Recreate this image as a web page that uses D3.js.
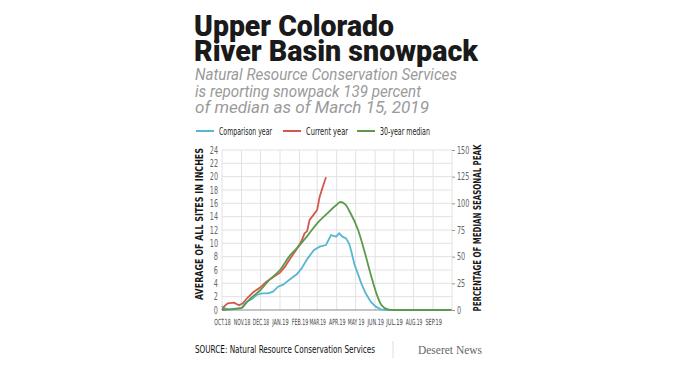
<!DOCTYPE html>
<html>
<head>
<meta charset="utf-8">
<script src="https://cdn.jsdelivr.net/npm/d3@7"></script>
<style>
  body { margin: 0; background: #fff; }
  svg { display: block; }
</style>
</head>
<body>
<svg id="chart" width="674" height="373"></svg>
<script>
// snowpack, inches (average of all sites)
const medianDates = ['2018-10-01','2018-10-15','2018-11-01','2018-11-08','2018-11-15','2018-12-01','2018-12-15','2019-01-01','2019-01-17','2019-02-01','2019-02-15','2019-03-01','2019-03-15','2019-04-01','2019-04-07','2019-04-15','2019-04-22','2019-05-05','2019-05-16','2019-05-26','2019-06-03','2019-06-11','2019-06-21','2019-07-01','2019-08-01','2019-09-30']
const medianVals = [0.0, 0.1, 0.3, 1.0, 1.7, 3.0, 4.5, 6.0, 8.2, 9.7, 11.3, 13.0, 14.3, 15.8, 16.2, 15.8, 14.7, 12.0, 8.5, 5.0, 2.5, 0.75, 0.1, 0, 0, 0]

const currentDates = ['2018-10-01','2018-10-05','2018-10-10','2018-10-20','2018-10-28','2018-11-03','2018-11-10','2018-11-20','2018-12-01','2018-12-10','2018-12-21','2019-01-01','2019-01-09','2019-01-17','2019-01-28','2019-02-04','2019-02-09','2019-02-13','2019-02-17','2019-02-25','2019-03-01','2019-03-05','2019-03-10','2019-03-15']
const currentVals = [0.0, 0.6, 1.0, 1.1, 0.7, 1.0, 1.8, 2.7, 3.4, 4.2, 4.9, 5.6, 6.5, 7.7, 9.2, 10.3, 11.5, 11.8, 13.5, 14.5, 15.0, 17.0, 18.5, 19.9]

const compDates = ['2018-10-01','2018-10-04','2018-10-12','2018-11-01','2018-11-09','2018-11-17','2018-11-25','2018-12-03','2018-12-13','2018-12-21','2018-12-29','2019-01-06','2019-01-17','2019-01-28','2019-02-04','2019-02-14','2019-02-24','2019-03-05','2019-03-15','2019-03-23','2019-03-31','2019-04-05','2019-04-10','2019-04-16','2019-04-21','2019-04-25','2019-04-29','2019-05-04','2019-05-10','2019-05-17','2019-05-25','2019-06-02','2019-06-10','2019-06-20','2019-09-30']
const compVals = [0.6, 0.3, 0.1, 0.3, 1.25, 1.6, 2.25, 2.5, 2.5, 2.75, 3.5, 3.8, 4.6, 5.4, 6.2, 7.75, 9.0, 9.5, 9.75, 11.25, 11.0, 11.5, 11.0, 10.75, 9.9, 8.5, 6.9, 5.6, 4.0, 2.5, 1.25, 0.5, 0.1, 0, 0]

const leftTicks = [0, 2, 4, 6, 8, 10, 12, 14, 16, 18, 20, 22, 24]
const rightTicks = [0, 25, 50, 75, 100, 125, 150]
const monthLabels = ['OCT.18','NOV.18','DEC.18','JAN.19','FEB.19','MAR.19','APR.19','MAY 19','JUN.19','JUL.19','AUG.19','SEP.19']

const blue = '#58b6d3'
const red = '#d4574f'
const green = '#5a9a4b'
const cond = "'DejaVu Sans Condensed', 'DejaVu Sans', sans-serif"

const svg = d3.select('#chart')
const parse = d3.timeParse('%Y-%m-%d')

const x = d3.scaleTime()
  .domain([parse('2018-10-01'), parse('2019-10-01')])
  .range([222, 452])
const y = d3.scaleLinear().domain([0, 24]).range([310, 150])
const yPct = d3.scaleLinear().domain([0, 150]).range([310, 150])

// squeeze text horizontally to a narrow look
function squeeze(sel, f) {
  sel.each(function () {
    const w = this.getComputedTextLength()
    d3.select(this).attr('textLength', w * f).attr('lengthAdjust', 'spacingAndGlyphs')
  })
}
function fit(sel, w) {
  sel.attr('textLength', w).attr('lengthAdjust', 'spacingAndGlyphs')
}

// title
svg.append('text').attr('x', 194).attr('y', 36)
  .style('font-family', 'Roboto, sans-serif').style('font-weight', 900)
  .style('font-size', '30px').style('fill', '#1a1a1a')
  .text('Upper Colorado').call(fit, 200)
svg.append('text').attr('x', 194).attr('y', 61)
  .style('font-family', 'Roboto, sans-serif').style('font-weight', 900)
  .style('font-size', '30px').style('fill', '#1a1a1a')
  .text('River Basin snowpack').call(fit, 284)

const subtitle = [
  ['Natural Resource Conservation Services', 262],
  ['is reporting snowpack 139 percent', 226],
  ['of median as of March 15, 2019', 234]
]
subtitle.forEach(function (s, i) {
  svg.append('text').attr('x', 195).attr('y', 80 + i * 16.5)
    .style('font-family', 'Roboto, sans-serif').style('font-style', 'italic')
    .style('font-size', '16.5px').style('fill', '#9a9a9a')
    .text(s[0]).call(fit, s[1])
})

// legend
const legend = [
  ['Comparison year', blue, 196, 53],
  ['Current year', red, 283, 42],
  ['30-year median', green, 357, 50]
]
legend.forEach(function (l) {
  svg.append('line').attr('x1', l[2]).attr('x2', l[2] + 18)
    .attr('y1', 131).attr('y2', 131)
    .style('stroke', l[1]).style('stroke-width', 2)
  svg.append('text').attr('x', l[2] + 23).attr('y', 134.5)
    .style('font-family', cond).style('font-size', '10.5px').style('fill', '#222')
    .text(l[0]).call(fit, l[3])
})

// grid
const grid = svg.append('g')
grid.selectAll('.h').data(leftTicks.slice(1)).enter().append('line')
  .attr('x1', 222).attr('x2', 452)
  .attr('y1', d => y(d)).attr('y2', d => y(d))
  .style('stroke', '#e2e2e2').style('stroke-width', 1)
const monthStarts = d3.timeMonth.range(parse('2018-10-01'), parse('2019-10-02'))
grid.selectAll('.v').data(monthStarts).enter().append('line')
  .attr('x1', d => x(d)).attr('x2', d => x(d))
  .attr('y1', 150).attr('y2', 310)
  .style('stroke', '#e2e2e2').style('stroke-width', 1)

// axes
const gl = svg.append('g').attr('transform', 'translate(222,0)')
  .call(d3.axisLeft(y).tickValues(leftTicks).tickSize(0).tickPadding(4))
gl.select('.domain').remove()
gl.selectAll('text').style('font-family', cond).style('font-size', '10px').style('fill', '#666')
  .call(squeeze, 0.72)

const gr = svg.append('g').attr('transform', 'translate(452,0)')
  .call(d3.axisRight(yPct).tickValues(rightTicks).tickSize(3).tickPadding(2))
gr.select('.domain').remove()
gr.selectAll('line').style('stroke', '#999')
gr.selectAll('text').style('font-family', cond).style('font-size', '10px').style('fill', '#666')
  .call(squeeze, 0.72)

const gx = svg.append('g').attr('transform', 'translate(0,310)')
  .call(d3.axisBottom(x).tickValues(monthStarts.slice(0, 12)).tickSize(0).tickPadding(9)
    .tickFormat((d, i) => monthLabels[i]))
gx.select('.domain').remove()
gx.selectAll('text').style('font-family', cond).style('font-size', '8.5px').style('fill', '#444')
  .each(function () {
    const w = this.getComputedTextLength()
    d3.select(this).attr('transform', 'scale(' + (16.5 / w) + ',1)')
  })

// baseline
svg.append('line').attr('x1', 222).attr('x2', 452).attr('y1', y(0)).attr('y2', y(0))
  .style('stroke', '#8a8a8a').style('stroke-width', 1.2)

// axis titles
svg.append('text').attr('transform', 'translate(203,224) rotate(-90)')
  .attr('text-anchor', 'middle')
  .style('font-family', cond).style('font-weight', 'bold').style('font-size', '11px').style('fill', '#1a1a1a')
  .text('AVERAGE OF ALL SITES IN INCHES').call(fit, 152)
svg.append('text').attr('transform', 'translate(481,228) rotate(-90)')
  .attr('text-anchor', 'middle')
  .style('font-family', cond).style('font-weight', 'bold').style('font-size', '11px').style('fill', '#1a1a1a')
  .text('PERCENTAGE OF MEDIAN SEASONAL PEAK').call(fit, 167)

// lines
const line = d3.line().x(d => x(d[0])).y(d => y(d[1]))
function series(dates, vals) { return dates.map((d, i) => [parse(d), vals[i]]) }

svg.append('path').datum(series(compDates, compVals)).attr('d', line)
  .style('fill', 'none').style('stroke', blue).style('stroke-width', 1.8)
svg.append('path').datum(series(currentDates, currentVals)).attr('d', line)
  .style('fill', 'none').style('stroke', red).style('stroke-width', 1.8)
svg.append('path').datum(series(medianDates, medianVals)).attr('d', line.curve(d3.curveMonotoneX))
  .style('fill', 'none').style('stroke', green).style('stroke-width', 1.8)

// source and credit
svg.append('text').attr('x', 195).attr('y', 353)
  .style('font-family', cond).style('font-size', '10px').style('fill', '#111')
  .text('SOURCE: Natural Resource Conservation Services').call(fit, 180)
svg.append('line').attr('x1', 393).attr('x2', 393).attr('y1', 341).attr('y2', 358)
  .style('stroke', '#ddd').style('stroke-width', 1)
svg.append('text').attr('x', 418).attr('y', 354)
  .style('font-family', "'Liberation Serif', serif").style('font-size', '12px').style('fill', '#666')
  .text('Deseret News').call(fit, 64)
</script>
</body>
</html>
